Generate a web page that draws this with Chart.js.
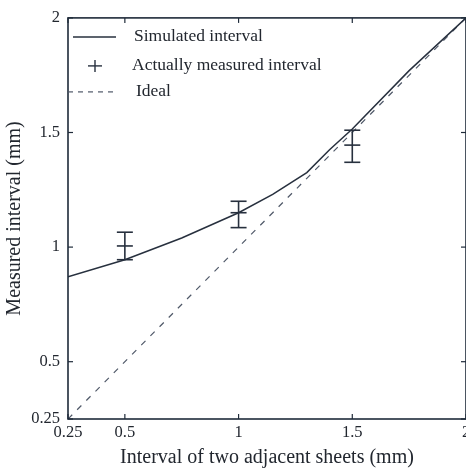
<!DOCTYPE html>
<html>
<head>
<meta charset="utf-8">
<script src="https://cdn.jsdelivr.net/npm/chart.js@4/dist/chart.umd.min.js"></script>
<style>
  html, body { margin: 0; padding: 0; background: #fff; overflow: hidden; }
  #wrap { width: 480px; height: 471px; }
</style>
</head>
<body>
<div id="wrap"><canvas id="myChart" width="480" height="471"></canvas></div>
<script>
var xTicks = [0.25, 0.5, 1, 1.5, 2];
var yTicks = [0.25, 0.5, 1, 1.5, 2];

var simX = [0.25, 0.5, 0.75, 1, 1.15, 1.3, 1.4, 1.5, 1.75, 2];
var simY = [0.87, 0.945, 1.04, 1.15, 1.23, 1.325, 1.425, 1.515, 1.77, 2.0];

var measX = [0.5, 1, 1.5];
var measY = [1.005, 1.15, 1.445];
var measLow = [0.945, 1.085, 1.37];
var measHigh = [1.065, 1.2, 1.51];

var idealX = [0.25, 2];
var idealY = [0.25, 2];

var labels = ["Simulated interval", "Actually measured interval", "Ideal"];

var lineColor = "#27303e";
var axisColor = "#1f2b3a";
var dashColor = "#4f5868";
var textColor = "#22272f";
var serif = '"Liberation Serif", "DejaVu Serif", serif';

function toPoints(xs, ys) {
  var pts = [];
  for (var i = 0; i < xs.length; i++) {
    pts.push({ x: xs[i], y: ys[i] });
  }
  return pts;
}

function seg(ctx, x1, y1, x2, y2) {
  ctx.beginPath();
  ctx.moveTo(x1, y1);
  ctx.lineTo(x2, y2);
  ctx.stroke();
}

// frame, inward ticks, error bars, legend
var extras = {
  id: "extras",
  afterDatasetsDraw: function (chart) {
    var ctx = chart.ctx;
    var xs = chart.scales.x, ys = chart.scales.y;
    ctx.save();
    ctx.strokeStyle = lineColor;
    ctx.lineWidth = 1.6;
    for (var i = 0; i < measX.length; i++) {
      var px = xs.getPixelForValue(measX[i]);
      var top = ys.getPixelForValue(measHigh[i]);
      var bot = ys.getPixelForValue(measLow[i]);
      seg(ctx, px, top, px, bot);
      seg(ctx, px - 8, top, px + 8, top);
      seg(ctx, px - 8, bot, px + 8, bot);
    }
    ctx.restore();
  },
  afterDraw: function (chart) {
    var ctx = chart.ctx;
    var a = chart.chartArea;
    var xs = chart.scales.x, ys = chart.scales.y;
    ctx.save();
    ctx.strokeStyle = axisColor;
    ctx.lineWidth = 1.6;
    ctx.strokeRect(a.left, a.top, a.right - a.left, a.bottom - a.top);
    ctx.lineWidth = 1.2;
    xTicks.forEach(function (v) {
      var px = xs.getPixelForValue(v);
      seg(ctx, px, a.bottom, px, a.bottom - 5);
      seg(ctx, px, a.top, px, a.top + 5);
    });
    yTicks.forEach(function (v) {
      var py = ys.getPixelForValue(v);
      seg(ctx, a.left, py, a.left + 5, py);
      seg(ctx, a.right, py, a.right - 5, py);
    });

    // legend
    var lx = a.left;
    var ly = a.top;
    ctx.strokeStyle = lineColor;
    ctx.lineWidth = 1.5;
    seg(ctx, lx + 5, ly + 19, lx + 48, ly + 19);
    ctx.lineWidth = 1.4;
    seg(ctx, lx + 20, ly + 48, lx + 34, ly + 48);
    seg(ctx, lx + 27, ly + 42, lx + 27, ly + 54);
    ctx.strokeStyle = dashColor;
    ctx.lineWidth = 1.2;
    ctx.setLineDash([5, 5]);
    seg(ctx, lx, ly + 74, lx + 48, ly + 74);
    ctx.setLineDash([]);
    ctx.fillStyle = textColor;
    ctx.font = "17.5px " + serif;
    ctx.textBaseline = "middle";
    ctx.fillText(labels[0], lx + 66, ly + 19);
    ctx.fillText(labels[1], lx + 64, ly + 48);
    ctx.fillText(labels[2], lx + 68, ly + 74);
    ctx.restore();
  }
};

var ctx = document.getElementById("myChart").getContext("2d");
var myChart = new Chart(ctx, {
  type: "scatter",
  data: {
    datasets: [
      {
        label: labels[0],
        data: toPoints(simX, simY),
        showLine: true,
        borderColor: lineColor,
        borderWidth: 1.5,
        pointRadius: 0,
        tension: 0
      },
      {
        label: labels[1],
        data: toPoints(measX, measY),
        showLine: false,
        pointStyle: "line",
        pointRadius: 8,
        borderColor: lineColor,
        borderWidth: 1.6
      },
      {
        label: labels[2],
        data: toPoints(idealX, idealY),
        showLine: true,
        borderColor: dashColor,
        borderWidth: 1.2,
        borderDash: [6, 7],
        pointRadius: 0
      }
    ]
  },
  options: {
    responsive: false,
    animation: false,
    events: [],
    layout: { padding: { top: 13, right: 14, left: 0, bottom: 0 } },
    plugins: {
      legend: { display: false },
      tooltip: { enabled: false }
    },
    scales: {
      x: {
        type: "linear",
        min: 0.25,
        max: 2,
        afterBuildTicks: function (scale) {
          scale.ticks = xTicks.map(function (v) { return { value: v }; });
        },
        afterFit: function (scale) { scale.height = 52; },
        grid: { display: false, drawTicks: false },
        border: { display: false },
        ticks: {
          color: textColor,
          padding: 4,
          maxRotation: 0,
          autoSkip: false,
          font: { family: serif, size: 16.5 },
          callback: function (v) { return String(v); }
        },
        title: {
          display: true,
          text: "Interval of two adjacent sheets (mm)",
          color: textColor,
          padding: { top: 0, bottom: 1 },
          font: { family: serif, size: 20 }
        }
      },
      y: {
        type: "linear",
        min: 0.25,
        max: 2,
        afterBuildTicks: function (scale) {
          scale.ticks = yTicks.map(function (v) { return { value: v }; });
        },
        afterFit: function (scale) { scale.width = 68; },
        grid: { display: false, drawTicks: false },
        border: { display: false },
        ticks: {
          color: textColor,
          padding: 8,
          autoSkip: false,
          font: { family: serif, size: 16.5 },
          callback: function (v) { return String(v); }
        },
        title: {
          display: true,
          text: "Measured interval (mm)",
          color: textColor,
          padding: { top: 3, bottom: 0 },
          font: { family: serif, size: 20 }
        }
      }
    }
  },
  plugins: [extras]
});
</script>
</body>
</html>
